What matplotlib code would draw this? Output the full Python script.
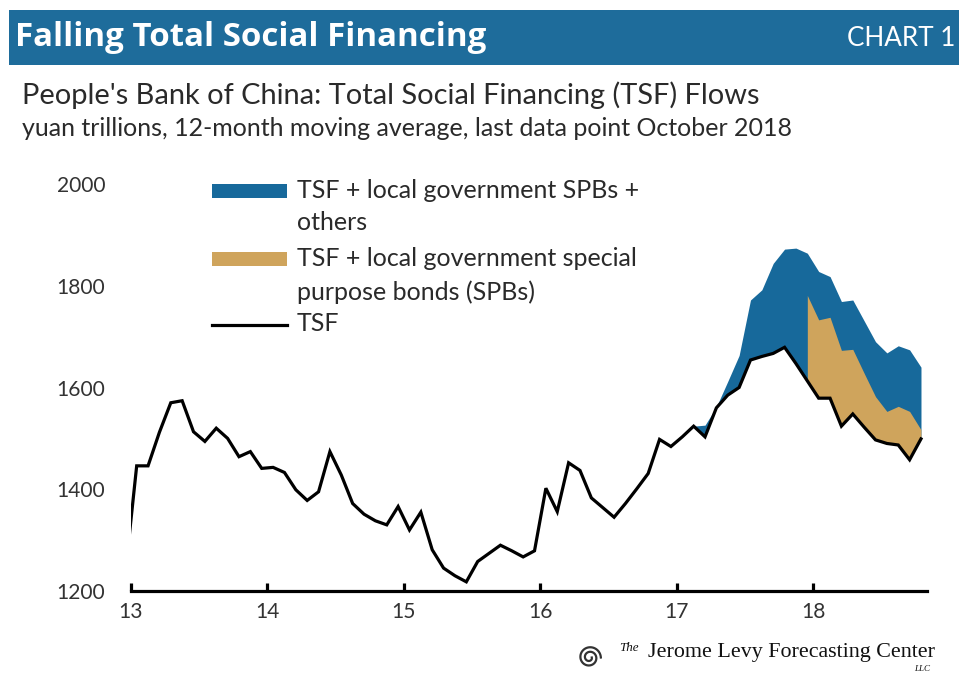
import numpy as np
import matplotlib.pyplot as plt
from matplotlib.patches import Rectangle
from matplotlib.lines import Line2D

plt.rcParams['font.family'] = ['Lato', 'DejaVu Sans']

# monthly points, Dec 2012 .. Oct 2018 (mid-month positions)
tsf = [1235,
       1446, 1446, 1512, 1570, 1574, 1513, 1494, 1520, 1500, 1464, 1474, 1441,
       1443, 1433, 1399, 1378, 1395, 1474, 1428, 1372, 1351, 1338, 1330, 1366,
       1320, 1355, 1281, 1245, 1230, 1218, 1258, 1274, 1290, 1279, 1267, 1279,
       1402, 1356, 1452, 1437, 1383, 1364, 1345, 1372, 1401, 1431, 1498, 1484,
       1503, 1524, 1503, 1560, 1585, 1600, 1654, 1661, 1667, 1679, 1647, 1613,
       1579, 1579, 1524, 1548, 1522, 1497, 1490, 1487, 1458, 1499]

# TSF + SPBs + others, Feb 2017 .. Oct 2018
tsf_spb_other = [1524, 1526, 1562, 1612, 1663, 1772, 1792, 1844, 1872, 1874, 1864,
                 1828, 1818, 1769, 1772, 1731, 1690, 1668, 1682, 1674, 1640]

# TSF + SPBs, Dec 2017 .. Oct 2018
tsf_spb = [1781, 1733, 1738, 1673, 1675, 1628, 1582, 1553, 1563, 1553, 1517]

year_ticks = [2013, 2014, 2015, 2016, 2017, 2018]
year_labels = ['13', '14', '15', '16', '17', '18']
y_ticks = [1200, 1400, 1600, 1800, 2000]

BLUE = '#17699b'
TAN = '#cfa45c'
BAR = '#1e6c9b'
TXT = '#2a2a2a'

W, H = 959, 673
fig = plt.figure(figsize=(W / 100, H / 100), dpi=100)


def fx(px):
    return px / W


def fy(py):
    return 1 - py / H


def pt(px):
    return px * 0.72


x = 2012 + (np.arange(len(tsf)) + 11.5) / 12
x_other = x[-len(tsf_spb_other):]
x_spb = x[-len(tsf_spb):]
base_other = np.array(tsf[-len(tsf_spb_other):])
base_spb = np.array(tsf[-len(tsf_spb):])

ax = fig.add_axes([fx(131), fy(591), fx(927) - fx(131), fy(184) - fy(591)])
ax.fill_between(x_other, base_other, tsf_spb_other, color=BLUE, lw=0)
ax.fill_between(x_spb, base_spb, tsf_spb, color=TAN, lw=0)
ax.plot(x, tsf, color='black', lw=2.3, solid_joinstyle='miter')

ax.set_xlim(2013, 2018 + (927 - 813) / 136.4)
ax.set_ylim(1200, 2000)
for s in ['top', 'right', 'left']:
    ax.spines[s].set_visible(False)
ax.spines['bottom'].set_linewidth(2.3)
ax.set_xticks(year_ticks)
ax.set_xticklabels(year_labels, fontsize=pt(21), color='#333333')
ax.set_yticks(y_ticks)
ax.set_yticklabels([str(v) for v in y_ticks], fontsize=pt(21), color='#333333')
ax.tick_params(axis='x', direction='in', length=6, width=2.3, pad=8)
ax.tick_params(axis='y', length=0, pad=pt(26))

# header bar
fig.add_artist(Rectangle((fx(9), fy(65)), 1 - fx(9), fy(10) - fy(65),
                         transform=fig.transFigure, color=BAR, lw=0))
fig.text(fx(15), fy(38), 'Falling Total Social Financing', color='white',
         fontsize=pt(33), fontweight='bold', family=['Open Sans', 'DejaVu Sans'],
         va='center', ha='left')
fig.text(fx(955), fy(38), 'CHART 1', color='white', fontsize=pt(26),
         va='center', ha='right')

fig.text(fx(22), fy(95), "People's Bank of China: Total Social Financing (TSF) Flows",
         fontsize=pt(29), color=TXT, va='center', ha='left')
fig.text(fx(22), fy(128), 'yuan trillions, 12-month moving average, last data point October 2018',
         fontsize=pt(25), color=TXT, va='center', ha='left')

# legend
leg_fs = pt(25)
fig.add_artist(Rectangle((fx(212), fy(198)), fx(287) - fx(212), fy(184) - fy(198),
                         transform=fig.transFigure, color=BLUE, lw=0))
fig.add_artist(Rectangle((fx(212), fy(266)), fx(287) - fx(212), fy(252) - fy(266),
                         transform=fig.transFigure, color=TAN, lw=0))
fig.add_artist(Line2D([fx(212), fx(287)], [fy(325), fy(325)],
                      transform=fig.transFigure, color='black', lw=2.3))
fig.text(fx(297), fy(190), 'TSF + local government SPBs +', fontsize=leg_fs,
         color=TXT, va='center')
fig.text(fx(297), fy(223), 'others', fontsize=leg_fs, color=TXT, va='center')
fig.text(fx(297), fy(259), 'TSF + local government special', fontsize=leg_fs,
         color=TXT, va='center')
fig.text(fx(297), fy(292), 'purpose bonds (SPBs)', fontsize=leg_fs,
         color=TXT, va='center')
fig.text(fx(297), fy(323), 'TSF', fontsize=leg_fs, color=TXT, va='center')

# footer logo and credit
lax = fig.add_axes([fx(577), fy(670), fx(25), fx(25) * W / H])
t = np.linspace(0, 4 * np.pi, 200)
r = 1 - t / (4 * np.pi) * 0.8
lax.plot(r * np.cos(t), r * np.sin(t), color='#333333', lw=1.6)
lax.set_xlim(-1.1, 1.1)
lax.set_ylim(-1.1, 1.1)
lax.set_aspect('equal')
lax.axis('off')

serif = ['Liberation Serif', 'DejaVu Serif']
fig.text(fx(619), fy(648), 'The', fontsize=pt(13), style='italic',
         family=serif, color='#111111', va='center')
fig.text(fx(935), fy(652), 'Jerome Levy Forecasting Center', fontsize=pt(22),
         family=serif, color='#111111', va='center', ha='right')
fig.text(fx(930), fy(673), 'LLC', fontsize=pt(9), style='italic',
         family=serif, color='#111111', va='bottom', ha='right')

fig.savefig('out.png', dpi=100, facecolor='white')
